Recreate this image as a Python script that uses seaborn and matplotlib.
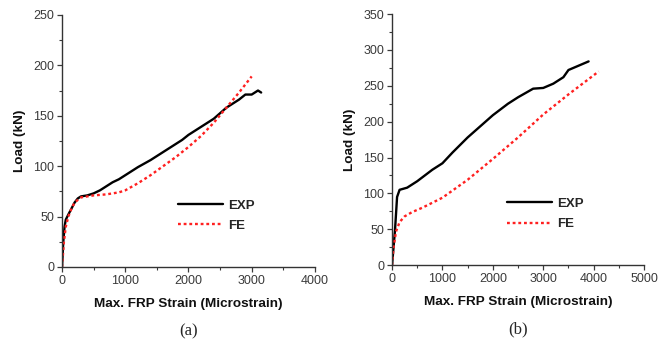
import numpy as np
import pandas as pd
import matplotlib
matplotlib.use("Agg")
import matplotlib.pyplot as plt
import seaborn as sns
from matplotlib.ticker import MultipleLocator

# Panel (a) data
a_exp_strain = [0, 20, 40, 60, 100, 150, 200, 250, 300, 400, 500, 600, 700, 800, 900,
                1000, 1200, 1400, 1600, 1800, 1900, 2000, 2200, 2400, 2600, 2800,
                2900, 3000, 3100, 3150]
a_exp_load = [0, 25, 40, 47, 52, 58, 64, 68, 70, 71, 73, 76, 80, 84, 87,
              91, 99, 106, 114, 122, 126, 131, 139, 147, 158, 166,
              171, 171, 175, 173]
a_fe_strain = [0, 30, 60, 100, 150, 200, 300, 500, 700, 900, 1000, 1200, 1400,
               1600, 1800, 2000, 2200, 2400, 2600, 2800, 3000]
a_fe_load = [0, 25, 40, 50, 58, 64, 69, 71, 72, 74, 76, 83, 91,
             100, 109, 119, 130, 143, 158, 173, 189]

# Panel (b) data
b_exp_strain = [0, 30, 60, 100, 150, 300, 500, 800, 1000, 1200, 1500, 2000, 2300,
                2500, 2800, 3000, 3200, 3400, 3500, 3700, 3900]
b_exp_load = [0, 25, 50, 95, 105, 108, 117, 133, 142, 157, 178, 209, 225,
              234, 246, 247, 253, 262, 272, 278, 284]
b_fe_strain = [0, 30, 80, 150, 250, 400, 600, 800, 1000, 1500, 2000, 2500, 3000,
               3500, 4100]
b_fe_load = [0, 25, 47, 60, 68, 74, 80, 87, 94, 119, 148, 178, 210, 238, 270]


def make_df(exp_x, exp_y, fe_x, fe_y):
    return pd.concat([
        pd.DataFrame({'strain': exp_x, 'load': exp_y, 'series': 'EXP'}),
        pd.DataFrame({'strain': fe_x, 'load': fe_y, 'series': 'FE'}),
    ], ignore_index=True)


sns.set_style("ticks")
plt.rcParams['font.family'] = ['Liberation Sans', 'DejaVu Sans']

fig = plt.figure(figsize=(6.69, 3.43), dpi=100)
ax_a = fig.add_axes([0.0927, 0.2216, 0.378, 0.735])
ax_b = fig.add_axes([0.586, 0.227, 0.3767, 0.732])

panels = [
    (ax_a, make_df(a_exp_strain, a_exp_load, a_fe_strain, a_fe_load), 4000, 250, 50, '(a)'),
    (ax_b, make_df(b_exp_strain, b_exp_load, b_fe_strain, b_fe_load), 5000, 350, 50, '(b)'),
]

for ax, df, xmax, ymax, ystep, tag in panels:
    sns.lineplot(data=df, x='strain', y='load', hue='series', style='series',
                 palette={'EXP': 'black', 'FE': '#ff2020'},
                 dashes={'EXP': '', 'FE': (1.2, 1.2)},
                 sort=False, estimator=None, ax=ax)
    for line in ax.get_lines():
        line.set_linewidth(1.7)
    ax.set_xlim(0, xmax)
    ax.set_ylim(0, ymax)
    ax.xaxis.set_major_locator(MultipleLocator(1000))
    ax.xaxis.set_minor_locator(MultipleLocator(500))
    ax.yaxis.set_major_locator(MultipleLocator(ystep))
    ax.yaxis.set_minor_locator(MultipleLocator(ystep / 2))
    ax.tick_params(which='major', length=3.5, width=0.9, labelsize=9,
                   colors='#3a3a3a', pad=2)
    ax.tick_params(which='minor', length=2, width=0.8, colors='#3a3a3a')
    for s in ['left', 'bottom']:
        ax.spines[s].set_linewidth(1.0)
        ax.spines[s].set_color('#333333')
    sns.despine(ax=ax)
    ax.set_xlabel('Max. FRP Strain (Microstrain)', fontsize=9.7, fontweight='bold',
                  labelpad=8, color='#111111')
    ax.set_ylabel('Load (kN)', fontsize=9.7, fontweight='bold', labelpad=5,
                  color='#111111')
    leg = ax.legend(loc='upper left', bbox_to_anchor=(0.458, 0.268), frameon=False,
                    fontsize=9.5, handlelength=3.4, handletextpad=0.4,
                    labelspacing=0.6, borderpad=0, borderaxespad=0)
    for t in leg.get_texts():
        t.set_fontweight('bold')
    for h in leg.get_lines():
        h.set_linewidth(1.7)
    ax.text(0.5, -0.225, tag, transform=ax.transAxes, ha='center', va='top',
            fontsize=12, family='Liberation Serif')

fig.savefig('out.png', dpi=100)
